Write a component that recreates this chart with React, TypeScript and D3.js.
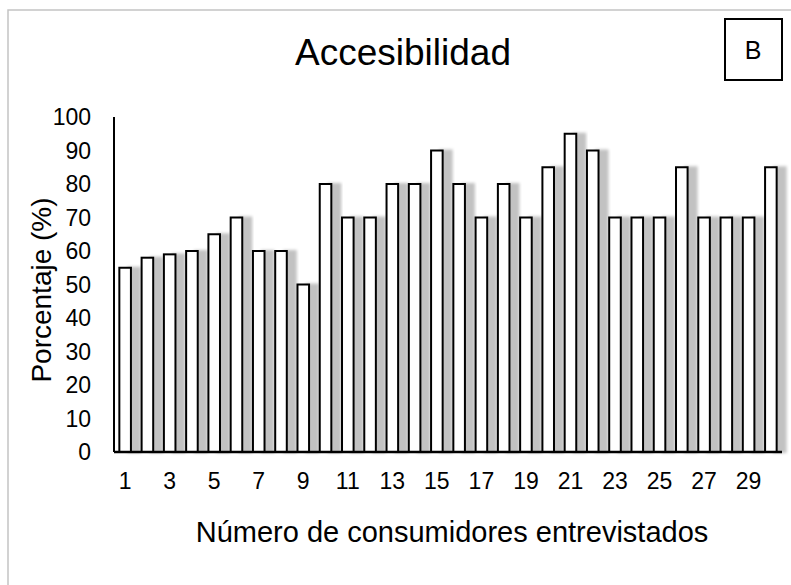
import React, { useEffect, useRef } from 'react';
import * as d3 from 'd3';

// consumidores entrevistados 1..30
const consumers: number[] = d3.range(1, 31);
const percentages: number[] = [
  55, 58, 59, 60, 65, 70, 60, 60, 50, 80,
  70, 70, 80, 80, 90, 80, 70, 80, 70, 85,
  95, 90, 70, 70, 70, 85, 70, 70, 70, 85,
];
const yTicks: number[] = [0, 10, 20, 30, 40, 50, 60, 70, 80, 90, 100];
const xTickLabels: number[] = [1, 3, 5, 7, 9, 11, 13, 15, 17, 19, 21, 23, 25, 27, 29];

const chartTitle = 'Accesibilidad';
const xTitle = 'Número de consumidores entrevistados';
const yTitle = 'Porcentaje (%)';
const panelLabel = 'B';

export default function App() {
  const ref = useRef<SVGSVGElement | null>(null);

  useEffect(() => {
    const width = 791;
    const height = 585;
    const svg = d3.select(ref.current);
    svg.selectAll('*').remove();

    const font = '"Liberation Sans", Arial, Helvetica, sans-serif';

    // sombra de las barras
    const defs = svg.append('defs');
    const filter = defs.append('filter')
      .attr('id', 'barShadow')
      .attr('x', '-50%').attr('y', '-10%')
      .attr('width', '250%').attr('height', '120%');
    filter.append('feDropShadow')
      .attr('dx', 9).attr('dy', 0)
      .attr('stdDeviation', 1.8)
      .attr('flood-color', '#000')
      .attr('flood-opacity', 0.24);

    svg.append('rect')
      .attr('width', width).attr('height', height)
      .attr('fill', '#fff');

    // marco exterior (gris)
    svg.append('rect')
      .attr('x', 8).attr('y', 10)
      .attr('width', width + 20).attr('height', height + 20)
      .attr('fill', 'none')
      .attr('stroke', '#c4c4c4')
      .attr('stroke-width', 1.5);

    const left = 114, right = 782, top = 117, bottom = 452;

    const x = d3.scaleBand<number>()
      .domain(consumers)
      .range([left, right])
      .paddingInner(0.48)
      .paddingOuter(0.24);

    const y = d3.scaleLinear()
      .domain([0, 100])
      .range([bottom, top]);

    // barras
    svg.append('g')
      .selectAll('rect')
      .data(percentages)
      .enter()
      .append('rect')
      .attr('x', (d, i) => x(consumers[i]) as number)
      .attr('y', (d) => y(d))
      .attr('width', x.bandwidth())
      .attr('height', (d) => y(0) - y(d))
      .attr('fill', '#fff')
      .attr('stroke', '#000')
      .attr('stroke-width', 2)
      .attr('filter', 'url(#barShadow)');

    // ejes
    svg.append('line')
      .attr('x1', left).attr('x2', left)
      .attr('y1', top).attr('y2', bottom)
      .attr('stroke', '#000').attr('stroke-width', 2);
    svg.append('line')
      .attr('x1', left).attr('x2', right)
      .attr('y1', bottom).attr('y2', bottom)
      .attr('stroke', '#000').attr('stroke-width', 2.5);

    // etiquetas eje y
    svg.append('g')
      .selectAll('text')
      .data(yTicks)
      .enter()
      .append('text')
      .attr('x', 91)
      .attr('y', (d) => y(d))
      .attr('dy', '0.36em')
      .attr('text-anchor', 'end')
      .attr('font-family', font)
      .attr('font-size', 23)
      .attr('fill', '#000')
      .text((d) => d);

    // etiquetas eje x
    svg.append('g')
      .selectAll('text')
      .data(xTickLabels)
      .enter()
      .append('text')
      .attr('x', (d) => (x(d) as number) + x.bandwidth() / 2)
      .attr('y', 489)
      .attr('text-anchor', 'middle')
      .attr('font-family', font)
      .attr('font-size', 23)
      .attr('fill', '#000')
      .text((d) => d);

    // titulos
    svg.append('text')
      .attr('x', 403).attr('y', 65)
      .attr('text-anchor', 'middle')
      .attr('font-family', font)
      .attr('font-size', 37)
      .attr('fill', '#000')
      .text(chartTitle);

    svg.append('text')
      .attr('x', 452).attr('y', 542)
      .attr('text-anchor', 'middle')
      .attr('font-family', font)
      .attr('font-size', 29)
      .attr('fill', '#000')
      .text(xTitle);

    svg.append('text')
      .attr('transform', 'translate(51,290) rotate(-90)')
      .attr('text-anchor', 'middle')
      .attr('font-family', font)
      .attr('font-size', 28)
      .attr('fill', '#000')
      .text(yTitle);

    // recuadro B
    svg.append('rect')
      .attr('x', 725).attr('y', 19)
      .attr('width', 57).attr('height', 61)
      .attr('fill', '#fff')
      .attr('stroke', '#000')
      .attr('stroke-width', 2);
    svg.append('text')
      .attr('x', 753).attr('y', 59)
      .attr('text-anchor', 'middle')
      .attr('font-family', font)
      .attr('font-size', 25)
      .attr('fill', '#000')
      .text(panelLabel);
  }, []);

  return (
    <svg
      ref={ref}
      width={791}
      height={585}
      style={{ position: 'absolute', left: 0, top: 0 }}
    />
  );
}
